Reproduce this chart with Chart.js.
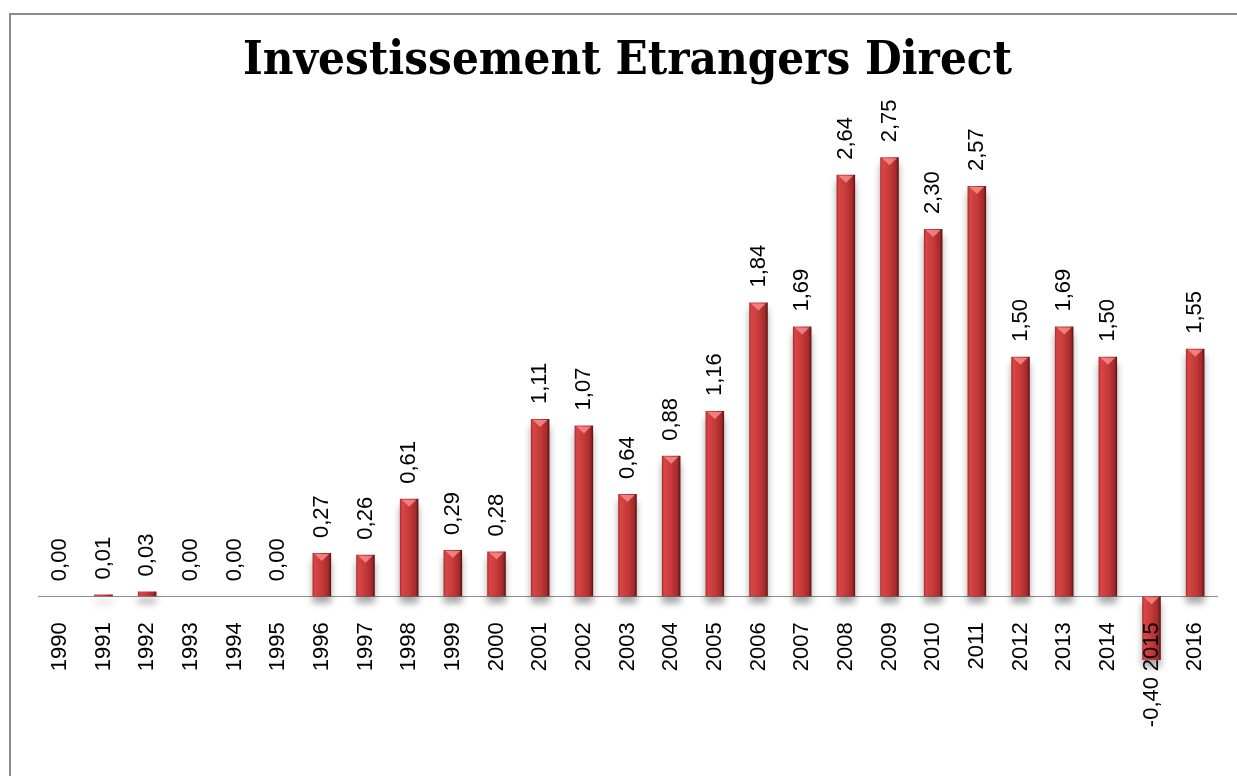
<!DOCTYPE html>
<html>
<head>
<meta charset="utf-8">
<script src="https://cdn.jsdelivr.net/npm/chart.js@4.4.1/dist/chart.umd.min.js"></script>
<style>
  html, body { margin: 0; padding: 0; background: #fff; overflow: hidden; }
  #wrap { position: relative; width: 1237px; height: 776px; }
  #cadre { position: absolute; left: 9px; top: 13px; right: -10px; bottom: -10px;
           border-left: 2px solid #8a8a8a; border-top: 2px solid #8a8a8a; pointer-events: none; }
</style>
</head>
<body>
<div id="wrap">
  <canvas id="ide" width="1237" height="776"></canvas>
  <div id="cadre"></div>
</div>
<script>
const annees = ['1990', '1991', '1992', '1993', '1994', '1995', '1996', '1997', '1998', '1999',
  '2000', '2001', '2002', '2003', '2004', '2005', '2006', '2007', '2008', '2009',
  '2010', '2011', '2012', '2013', '2014', '2015', '2016'];
const valeurs = [0.00, 0.01, 0.03, 0.00, 0.00, 0.00, 0.27, 0.26, 0.61, 0.29,
  0.28, 1.11, 1.07, 0.64, 0.88, 1.16, 1.84, 1.69, 2.64, 2.75,
  2.30, 2.57, 1.50, 1.69, 1.50, -0.40, 1.55];
const titre = 'Investissement Etrangers Direct';

const police = "'Liberation Sans', Arial, sans-serif";
const largeurBarre = 0.425;

// degrade horizontal pour chaque barre
function degrade(context) {
  const chart = context.chart;
  const x = chart.scales.x;
  if (!x || context.dataIndex === undefined) return '#c83a3a';
  const cx = x.getPixelForValue(context.dataIndex);
  const w = (x.right - x.left) / annees.length * largeurBarre;
  if (!isFinite(cx) || !isFinite(w) || w <= 0) return '#c83a3a';
  const g = chart.ctx.createLinearGradient(cx - w / 2, 0, cx + w / 2, 0);
  g.addColorStop(0, '#a82a2a');
  g.addColorStop(0.12, '#d84646');
  g.addColorStop(0.5, '#c63a3a');
  g.addColorStop(0.85, '#a52a2a');
  g.addColorStop(1, '#561010');
  return g;
}

// ombre sous les barres + reflet triangulaire + etiquettes de valeurs
const effets = {
  id: 'effets',
  beforeDatasetsDraw(chart) {
    const ctx = chart.ctx;
    ctx.save();
    ctx.shadowColor = 'rgba(0,0,0,0.35)';
    ctx.shadowBlur = 7;
    ctx.shadowOffsetY = 7;
  },
  afterDatasetsDraw(chart) {
    const ctx = chart.ctx;
    ctx.restore();
    const meta = chart.getDatasetMeta(0);
    meta.data.forEach((bar, i) => {
      const v = valeurs[i];
      const haut = Math.min(bar.y, bar.base);
      const bas = Math.max(bar.y, bar.base);
      if (bas - haut > 6) {
        ctx.save();
        ctx.fillStyle = 'rgba(255,150,150,0.75)';
        ctx.beginPath();
        ctx.moveTo(bar.x - bar.width / 2 + 2, haut + 1);
        ctx.lineTo(bar.x + bar.width / 2 - 2, haut + 1);
        ctx.lineTo(bar.x, haut + 8);
        ctx.closePath();
        ctx.fill();
        ctx.restore();
      }
      ctx.save();
      ctx.font = '22px ' + police;
      ctx.fillStyle = '#000';
      ctx.textBaseline = 'middle';
      const txt = v.toFixed(2).replace('.', ',');
      if (v >= 0) {
        ctx.translate(bar.x, haut - 15);
        ctx.rotate(-Math.PI / 2);
        ctx.textAlign = 'left';
      } else {
        ctx.translate(bar.x, bas + 17);
        ctx.rotate(-Math.PI / 2);
        ctx.textAlign = 'right';
      }
      ctx.fillText(txt, 0, 0);
      ctx.restore();
    });
  }
};

new Chart(document.getElementById('ide'), {
  type: 'bar',
  data: {
    labels: annees,
    datasets: [{
      label: titre,
      data: valeurs,
      backgroundColor: degrade,
      borderWidth: 0,
      categoryPercentage: 1,
      barPercentage: largeurBarre
    }]
  },
  options: {
    responsive: false,
    animation: false,
    layout: {
      padding: { top: 20, left: 38, right: 20, bottom: 100 }
    },
    plugins: {
      legend: { display: false },
      tooltip: { enabled: false },
      title: {
        display: true,
        text: titre,
        color: '#000',
        font: { family: "'DejaVu Serif Condensed', 'Liberation Serif', serif", size: 47, weight: 'bold', lineHeight: 1.2 },
        padding: { top: 14, bottom: 27 }
      }
    },
    scales: {
      x: {
        position: { y: 0 },
        grid: { display: false, drawTicks: false },
        border: { display: true, color: '#8c8c8c', width: 1 },
        ticks: {
          z: 1,
          color: '#000',
          font: { family: police, size: 22 },
          minRotation: 90,
          maxRotation: 90,
          padding: 26,
          autoSkip: false
        },
        afterFit(scale) {
          scale.paddingLeft = 0;
          scale.paddingRight = 0;
        }
      },
      y: {
        display: false,
        min: -0.5,
        max: 3.0
      }
    }
  },
  plugins: [effets]
});
</script>
</body>
</html>
